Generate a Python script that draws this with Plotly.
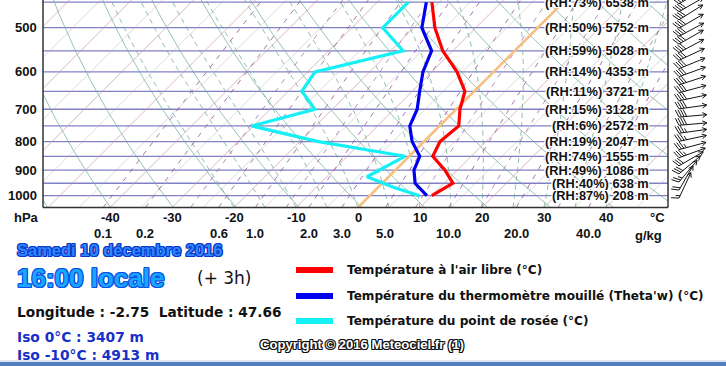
import numpy as np
import plotly.graph_objects as go

# ---------------- data ----------------
levels = [450, 500, 550, 600, 650, 700, 750, 800, 850, 900, 950, 1000]
temp_c = [-21.2, -16.6, -11.6, -5.9, -1.5, 0.6, 3.1, 2.6, 3.8, 8.0, 11.4, 10.0]
wetbulb_c = [-22.1, -18.7, -13.4, -11.4, -8.8, -6.3, -4.8, -1.9, 1.7, 3.0, 5.3, 9.2]
dew_levels = [450, 500, 550, 600, 650, 700, 750, 800, 850, 925, 965, 1000]
dewpoint_c = [-25.0, -25.0, -18.0, -28.8, -27.8, -22.8, -30.3, -17.0, -0.7, -3.5, 2.3, 8.0]
rh_pct = [73, 50, 59, 14, 11, 15, 6, 19, 74, 49, 40, 87]
height_m = [6538, 5752, 5028, 4353, 3721, 3128, 2572, 2047, 1555, 1086, 638, 208]

wind_p = [453, 468, 484, 501, 518, 535, 554, 572, 592, 612, 633, 654, 676,
          699, 723, 748, 773, 799, 827, 855, 884, 914, 945, 977, 1010]
wind_dir = [240, 240, 238, 240, 242, 240, 242, 245, 248, 250, 252, 255, 258,
            262, 265, 265, 262, 258, 255, 250, 240, 230, 220, 210, 205]
wind_kt = [40, 40, 40, 40, 40, 40, 40, 40, 40, 40, 40, 40, 40,
           40, 40, 40, 35, 35, 35, 35, 30, 30, 25, 20, 15]

pressure_ticks = [500, 600, 700, 800, 900, 1000]
isobars = [450, 500, 550, 600, 650, 700, 750, 800, 850, 900, 950, 1000]
temp_ticks = [-40, -30, -20, -10, 0, 10, 20, 30, 40]
mixing_ticks = [0.1, 0.2, 0.6, 1.0, 2.0, 3.0, 5.0, 10.0, 20.0, 40.0]

date_text = "Samedi 10 décembre 2016"
time_text = "16:00 locale"
lead_text = "(+ 3h)"
lon, lat = -2.75, 47.66
iso0_m, iso10_m = 3407, 4913

# ---------------- geometry ----------------
W, H = 726, 366
PX_DEG = 6.2          # px per degC
PX_DEC = 558.0        # px per decade of pressure
X_LEFT, X_RIGHT = 43, 668
X0 = 358              # x px of 0 degC at bottom
Y_BOT = 207.5         # px of bottom of diagram
P_BOT = 1050.0
K = PX_DEC / PX_DEG
P_TOP = P_BOT / 10 ** (Y_BOT / PX_DEC)
XR = [(X_LEFT - X0) / PX_DEG, (X_RIGHT - X0) / PX_DEG]


def skx(T, p):
    return np.asarray(T, float) + K * np.log10(P_BOT / np.asarray(p, float))


def tdew(w, p):
    e = w * p / (622.0 + w)
    a = np.log(e / 6.112)
    return 243.5 * a / (17.67 - a)


FONT = "Liberation Sans, Arial, sans-serif"
WIDE = "DejaVu Sans, Verdana, sans-serif"
fig = go.Figure()

pp = np.linspace(P_BOT, P_TOP - 5, 120)


def family(curves, color, width, dash="solid"):
    xs, ys = [], []
    for x, y in curves:
        xs += list(x) + [None]
        ys += list(y) + [None]
    fig.add_trace(go.Scatter(x=xs, y=ys, mode="lines", hoverinfo="skip",
                             line=dict(color=color, width=width, dash=dash),
                             showlegend=False))


# isobars
family([([XR[0], XR[1]], [p, p]) for p in isobars], "rgb(128,128,196)", 1.3)
# isotherms
family([(skx(np.full_like(pp, t), pp), pp) for t in range(-140, 60, 10) if t != 0],
       "rgba(200,150,160,0.75)", 0.9)
family([(skx(np.full_like(pp, t), pp), pp) for t in range(-135, 60, 10)],
       "rgba(170,170,170,0.55)", 0.8)
# dry adiabats
family([(theta * (pp / 1000.0) ** 0.2857 - 273.15 + K * np.log10(P_BOT / pp), pp)
        for theta in range(220, 500, 10)], "rgba(110,170,150,0.8)", 0.9)


# moist adiabats
def moist(T0):
    Rd, cp, Lv, eps = 287.04, 1005.7, 2.501e6, 0.622
    ps = np.linspace(P_BOT, P_TOP - 5, 200)
    T = T0 + 273.15
    out = [T0]
    for i in range(1, len(ps)):
        p = ps[i - 1]
        dp = ps[i] - p
        es = 6.112 * np.exp(17.67 * (T - 273.15) / (T - 29.65))
        rs = eps * es / (p - es)
        dTdp = (Rd * T + Lv * rs) / (p * (cp + Lv * Lv * rs * eps / (Rd * T * T)))
        T += dTdp * dp
        out.append(T - 273.15)
    return skx(out, ps), ps


family([moist(t) for t in range(-20, 45, 5)], "rgba(110,170,150,0.85)", 0.9, "5px,4px")
# mixing ratio lines
family([(skx(tdew(w, pp), pp), pp) for w in mixing_ticks], "rgba(150,90,170,0.85)", 1.0, "5px,6px")
family([(skx(tdew(w, pp), pp), pp) for w in [0.4, 1.5, 7.0, 14.0, 30.0]],
       "rgba(150,90,170,0.7)", 1.0, "5px,6px")

# 0 degC isotherm
fig.add_trace(go.Scatter(x=skx(np.zeros_like(pp), pp), y=pp, mode="lines",
                         line=dict(color="#f6be80", width=2.6), hoverinfo="skip", showlegend=False))

# profiles
fig.add_trace(go.Scatter(x=skx(dewpoint_c, dew_levels), y=dew_levels, mode="lines",
                         line=dict(color="#14f0f5", width=3.2), showlegend=False))
fig.add_trace(go.Scatter(x=skx(temp_c, levels), y=levels, mode="lines",
                         line=dict(color="#ff0000", width=3.2), showlegend=False))
fig.add_trace(go.Scatter(x=skx(wetbulb_c, levels), y=levels, mode="lines",
                         line=dict(color="#0000ee", width=3.2), showlegend=False))

# ---------------- wind barbs (px on x2, pressure on y2) ----------------
Y2_BOT = 222.0
P2_BOT = P_BOT * 10 ** ((Y2_BOT - Y_BOT) / PX_DEC)
bx, by = [], []
TAIL_X = 679.0
L = 28.0
for p, d, s in zip(wind_p, wind_dir, wind_kt):
    tow = np.radians(d + 180)
    ux, uy = np.sin(tow), -np.cos(tow)          # screen px, y down

    def P(dy, p=p):
        return p * 10 ** (dy / PX_DEC)
    tx, ty = TAIL_X, 0.0
    hx, hy = tx + L * ux, ty + L * uy
    bx += [tx, hx, None]
    by += [P(ty), P(hy), None]
    for ang in (0.5, -0.5):
        ca, sa = np.cos(ang), np.sin(ang)
        vx, vy = -(ux * ca - uy * sa), -(ux * sa + uy * ca)
        bx += [hx, hx + 5 * vx, None]
        by += [P(hy), P(hy + 5 * vy), None]
    px_, py_ = uy, -ux
    fx, fy = 0.92 * px_ - 0.38 * ux, 0.92 * py_ - 0.38 * uy
    n_full, half = int(s // 10), (s % 10) >= 5
    for i in range(n_full):
        sx, sy = tx + i * 2.6 * ux, ty + i * 2.6 * uy
        bx += [sx, sx + 8 * fx, None]
        by += [P(sy), P(sy + 8 * fy), None]
    if half:
        i = n_full
        sx, sy = tx + i * 2.6 * ux, ty + i * 2.6 * uy
        bx += [sx, sx + 4.5 * fx, None]
        by += [P(sy), P(sy + 4.5 * fy), None]
fig.add_trace(go.Scatter(x=bx, y=by, xaxis="x2", yaxis="y2", mode="lines",
                         line=dict(color="#151515", width=1.0), hoverinfo="skip", showlegend=False))

# ---------------- annotations ----------------
ann = []


def outline(c, w=1):
    return ", ".join(f"{a}px {b}px 0 {c}" for a in (-w, 0, w) for b in (-w, 0, w) if a or b)


for lv, r, h in zip(levels, rh_pct, height_m):
    ann.append(dict(x=651 / W, xref="paper", xanchor="right", y=np.log10(lv), yref="y",
                    yanchor="middle", text=f"(RH:{r}%) {h} m", showarrow=False,
                    font=dict(family=FONT, size=12.8, color="#111111", weight="bold",
                              shadow=outline("#ffffff"))))
for p in pressure_ticks:
    ann.append(dict(x=39 / W, xref="paper", xanchor="right", y=np.log10(p), yref="y",
                    yanchor="middle", text=str(p), showarrow=False,
                    font=dict(family=FONT, size=13, color="#111111", weight="bold")))
ann.append(dict(x=12 / W, xref="paper", xanchor="left", y=1 - 217 / H, yref="paper",
                yanchor="middle", text="hPa", showarrow=False,
                font=dict(family=FONT, size=13, color="#111111", weight="bold")))
for t in temp_ticks:
    ann.append(dict(x=t, xref="x", xanchor="center", y=1 - 217 / H, yref="paper",
                    yanchor="middle", text=str(t), showarrow=False,
                    font=dict(family=FONT, size=13, color="#111111", weight="bold")))
ann.append(dict(x=657 / W, xref="paper", xanchor="center", y=1 - 217 / H, yref="paper",
                yanchor="middle", text="°C", showarrow=False,
                font=dict(family=FONT, size=13, color="#111111", weight="bold")))
for w in mixing_ticks:
    ann.append(dict(x=float(tdew(w, P_BOT)), xref="x", xanchor="center", y=1 - 233 / H, yref="paper",
                    yanchor="middle", text=f"{w:.1f}", showarrow=False,
                    font=dict(family=FONT, size=13, color="#111111", weight="bold")))
ann.append(dict(x=648 / W, xref="paper", xanchor="center", y=1 - 235 / H, yref="paper",
                yanchor="middle", text="g/kg", showarrow=False,
                font=dict(family=FONT, size=13, color="#111111", weight="bold")))

ann.append(dict(x=15 / W, xref="paper", xanchor="left", y=1 - 250 / H, yref="paper", yanchor="middle",
                text=date_text, showarrow=False,
                font=dict(family=FONT, size=16.5, color="#2f86ff", weight="bold", shadow=outline("#0838c8"))))
ann.append(dict(x=15 / W, xref="paper", xanchor="left", y=1 - 278 / H, yref="paper", yanchor="middle",
                text=time_text, showarrow=False,
                font=dict(family=FONT, size=26, color="#1aa6ff", weight="bold", shadow=outline("#0a4fe6"))))
ann.append(dict(x=195 / W, xref="paper", xanchor="left", y=1 - 278 / H, yref="paper", yanchor="middle",
                text=lead_text, showarrow=False,
                font=dict(family=WIDE, size=17, color="#111111")))
ann.append(dict(x=15 / W, xref="paper", xanchor="left", y=1 - 312 / H, yref="paper", yanchor="middle",
                text=f"Longitude : {lon}  Latitude : {lat}", showarrow=False,
                font=dict(family=WIDE, size=13.7, color="#111111", weight="bold")))
ann.append(dict(x=15 / W, xref="paper", xanchor="left", y=1 - 337 / H, yref="paper", yanchor="middle",
                text=f"Iso 0°C : {iso0_m} m", showarrow=False,
                font=dict(family=WIDE, size=13.8, color="#1830c8", weight="bold")))
ann.append(dict(x=15 / W, xref="paper", xanchor="left", y=1 - 355 / H, yref="paper", yanchor="middle",
                text=f"Iso -10°C : {iso10_m} m", showarrow=False,
                font=dict(family=WIDE, size=13.8, color="#1830c8", weight="bold")))

legend_items = [("Température à l'air libre (°C)", "#ff0000", 270),
                ("Température du thermomètre mouillé (Theta'w) (°C)", "#0000ee", 296),
                ("Température du point de rosée (°C)", "#14f0f5", 321)]
shapes = []
for txt, col, yy in legend_items:
    shapes.append(dict(type="rect", xref="paper", yref="paper", x0=296 / W, x1=333 / W,
                       y0=1 - (yy + 3) / H, y1=1 - (yy - 3) / H, fillcolor=col, line=dict(width=0)))
    ann.append(dict(x=345 / W, xref="paper", xanchor="left", y=1 - yy / H, yref="paper", yanchor="middle",
                    text=txt, showarrow=False,
                    font=dict(family=WIDE, size=12.1, color="#111111", weight="bold")))
ann.append(dict(x=258 / W, xref="paper", xanchor="left", y=1 - 344 / H, yref="paper", yanchor="middle",
                text="Copyright © 2016 Meteociel.fr (1)", showarrow=False,
                font=dict(family=FONT, size=13.1, color="#ffffff", weight="bold", shadow=outline("#111111"))))

fc = dict(color="#333333", width=1.5)
shapes += [
    dict(type="line", xref="paper", yref="paper", x0=X_LEFT / W, x1=X_LEFT / W, y0=1 - Y_BOT / H, y1=1, line=fc),
    dict(type="line", xref="paper", yref="paper", x0=X_RIGHT / W, x1=X_RIGHT / W, y0=1 - Y_BOT / H, y1=1, line=fc),
    dict(type="line", xref="paper", yref="paper", x0=X_LEFT / W, x1=X_RIGHT / W, y0=1 - Y_BOT / H, y1=1 - Y_BOT / H, line=fc),
    dict(type="rect", xref="paper", yref="paper", x0=0, x1=1, y0=0, y1=4 / H,
         fillcolor="#4f7fc0", line=dict(width=0)),
    dict(type="rect", xref="paper", yref="paper", x0=0, x1=1, y0=4 / H, y1=6 / H,
         fillcolor="#dfe6ef", line=dict(width=0)),
]

fig.update_layout(
    width=W, height=H, margin=dict(l=0, r=0, t=0, b=0),
    paper_bgcolor="white", plot_bgcolor="white",
    xaxis=dict(domain=[X_LEFT / W, X_RIGHT / W], range=XR, showgrid=False, zeroline=False,
               showticklabels=False, ticks="", fixedrange=True),
    yaxis=dict(domain=[1 - Y_BOT / H, 1], type="log", range=[np.log10(P_BOT), np.log10(P_TOP)],
               showgrid=False, zeroline=False, showticklabels=False, ticks="", fixedrange=True),
    xaxis2=dict(domain=[X_RIGHT / W, 1], range=[X_RIGHT, W], showgrid=False, zeroline=False,
                showticklabels=False, ticks="", anchor="y2", fixedrange=True),
    yaxis2=dict(domain=[1 - Y2_BOT / H, 1], type="log", range=[np.log10(P2_BOT), np.log10(P_TOP)],
                showgrid=False, zeroline=False, showticklabels=False, ticks="", anchor="x2",
                fixedrange=True),
    annotations=ann, shapes=shapes, showlegend=False,
)

fig.write_html("out.html")
